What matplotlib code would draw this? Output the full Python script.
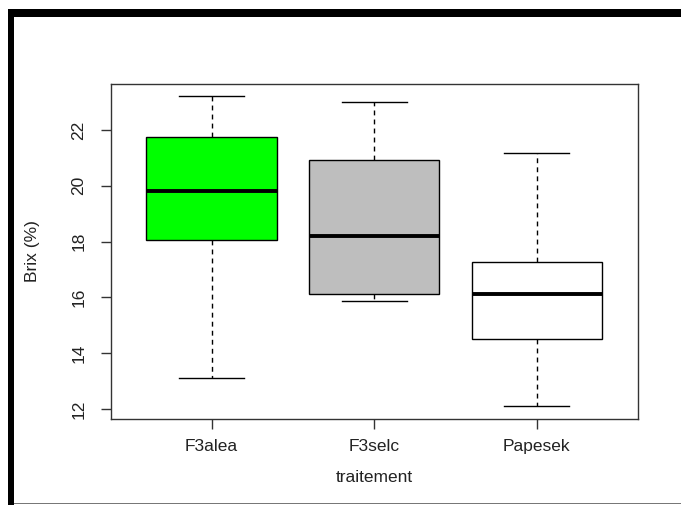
import matplotlib
matplotlib.use("Agg")
import matplotlib.pyplot as plt
from matplotlib.patches import Rectangle

categories = ["F3alea", "F3selc", "Papesek"]
whis_low = [13.12, 15.88, 12.12]
q1 = [18.05, 16.12, 14.51]
medians = [19.81, 18.20, 16.11]
q3 = [21.74, 20.92, 17.28]
whis_high = [23.21, 22.99, 21.19]
box_colors = ["#00FF00", "#BEBEBE", "#FFFFFF"]
y_ticks = [12, 14, 16, 18, 20, 22]

plt.rcParams['font.family'] = ['Liberation Sans', 'DejaVu Sans']

W, H = 681, 505
fig = plt.figure(figsize=(W / 100, H / 100), dpi=100)
fig.patch.set_facecolor("white")

def px_rect(x0, y0, x1, y1, color):
    fig.patches.append(Rectangle((x0 / W, 1 - y1 / H), (x1 - x0) / W, (y1 - y0) / H,
                                 transform=fig.transFigure, facecolor=color,
                                 edgecolor="none", zorder=0))

# outer frame
px_rect(8, 9, W, 17, "black")
px_rect(7.5, 9, 14, H, "black")
px_rect(14, 502.5, W, 504, "#777777")

left, right, top, bottom = 110.7, 637.7, 84, 419
ax = fig.add_axes([left / W, 1 - bottom / H, (right - left) / W, (bottom - top) / H])

stats = []
for i, c in enumerate(categories):
    stats.append(dict(label=c, whislo=whis_low[i], q1=q1[i], med=medians[i],
                      q3=q3[i], whishi=whis_high[i], fliers=[]))

positions = list(range(1, len(categories) + 1))
bp = ax.bxp(stats, positions=positions, widths=0.8, patch_artist=True,
            showfliers=False,
            boxprops=dict(edgecolor="black", linewidth=1.0),
            medianprops=dict(color="black", linewidth=2.8, solid_capstyle="butt"),
            whiskerprops=dict(color="black", linewidth=1.0, linestyle=(0, (3.5, 3.0))),
            capprops=dict(color="black", linewidth=1.0),
            capwidths=0.4)
for patch, col in zip(bp["boxes"], box_colors):
    patch.set_facecolor(col)

ax.set_xlim(0.38, 3.62)
ax.set_ylim(11.64, 23.65)
ax.set_yticks(y_ticks)
ax.set_yticklabels([str(t) for t in y_ticks], rotation=90, va="center")
ax.set_xticks(positions)
ax.set_xticklabels(categories)

for s in ax.spines.values():
    s.set_linewidth(1.0)
    s.set_color("#333333")

ax.tick_params(axis="both", direction="out", length=7.5, width=1.0, color="#333333",
               labelsize=12.5, labelcolor="#222222")
ax.tick_params(axis="y", pad=10)
ax.tick_params(axis="x", pad=7)

ax.set_xlabel("traitement", fontsize=12.5, color="#222222")
ax.set_ylabel("Brix (%)", fontsize=12.5, color="#222222")
ax.xaxis.set_label_coords(0.5, -(477 - bottom) / (bottom - top), transform=ax.transAxes)
ax.yaxis.set_label_coords(-(left - 33) / (right - left), 0.5, transform=ax.transAxes)
ax.xaxis.label.set_va("center")
ax.yaxis.label.set_va("center")

fig.savefig("out.png", dpi=100, facecolor="white")
